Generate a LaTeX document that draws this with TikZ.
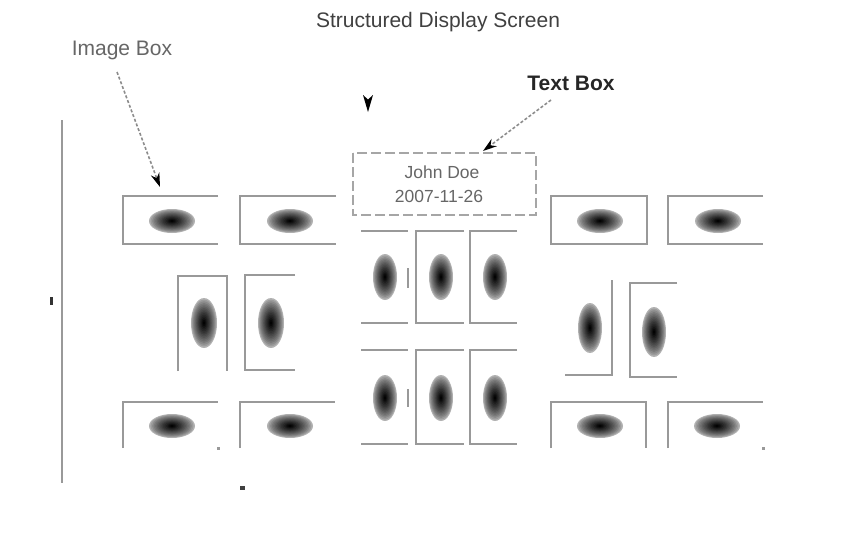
\documentclass[tikz,border=0pt]{standalone}
\usepackage{fontspec}
\setmainfont{Liberation Sans}
\usetikzlibrary{arrows.meta}
\definecolor{edgegray}{gray}{0.6}
\newcommand\myblob[4]{%
  \foreach \k in {0,...,14}{%
    \pgfmathsetmacro\rxx{#3*(1-\k/15)}%
    \pgfmathsetmacro\ryy{#4*(1-\k/15)}%
    \pgfmathtruncatemacro\cc{30+70*(\k/14)^0.75}%
    \fill[black!\cc] (#1,#2) ellipse [x radius=\rxx pt, y radius=\ryy pt];
  }}
\begin{document}
\begin{tikzpicture}[x=1pt,y=-1pt,
  edge/.style={draw=edgegray,line width=2.5pt},
  lbl/.style={inner sep=0pt,anchor=base},
  pointer/.style={draw=black!45,line width=1.6pt,dash pattern=on 3pt off 2pt,
    -{Stealth[black,length=14pt,width=9pt]}},
  textframe/.style={draw=black!35,line width=1.6pt,dash pattern=on 10pt off 4pt}]
\useasboundingbox (0,0) rectangle (845,539);

% title and labels
\node[lbl,font=\fontsize{21}{25}\selectfont,text=black!75] (title) at (438,27) {Structured Display Screen};
\node[lbl,font=\fontsize{21}{25}\selectfont,text=black!60] (imglbl) at (122,55) {Image Box};
\node[lbl,font=\bfseries\fontsize{21}{25}\selectfont,text=black!85] (txtlbl) at (571,90) {Text Box};

% text box
\draw[textframe] (353,153) rectangle (536,215);
\node[lbl,font=\fontsize{17.5}{21}\selectfont,text=black!60] (name) at (442,178) {John Doe};
\node[lbl,font=\fontsize{17.5}{21}\selectfont,text=black!60] (date) at (439,202) {2007-11-26};

% pointers
\coordinate (imgfrom) at (117,72);
\coordinate (imgtip) at (160,187);
\coordinate (txtfrom) at (551,100);
\coordinate (txttip) at (483,151);
\draw[pointer] (imgfrom) -- (imgtip);
\draw[pointer] (txtfrom) -- (txttip);

% lone marks
\fill[black] (363,95) -- (368,99.5) -- (373,95) -- (368,112) -- cycle;
\fill[black!80] (50,297) rectangle (53,305);
\fill[black!75] (240,486) rectangle (245,490);

% left rule
\draw[edge] (62,120) -- (62,483);

% row 1 left
\draw[edge] (218,196) -- (123,196) -- (123,244) -- (218,244);
\myblob{172}{221}{23}{12}
\draw[edge] (336,196) -- (240,196) -- (240,244) -- (336,244);
\myblob{290}{221}{23}{12}

% row 2 left
\draw[edge] (178,371) -- (178,276) -- (227,276) -- (227,371);
\myblob{204}{323}{13}{25}
\draw[edge] (295,275) -- (245,275) -- (245,370) -- (295,370);
\myblob{271}{323}{13}{25}

% middle top row
\draw[edge] (361,231) -- (408,231);
\draw[edge] (361,323) -- (408,323);
\draw[edge] (408,268) -- (408,288);
\myblob{385}{277}{12}{23}
\draw[edge] (464,231) -- (416,231) -- (416,323) -- (464,323);
\myblob{441}{277}{12}{23}
\draw[edge] (517,231) -- (470,231) -- (470,323) -- (517,323);
\myblob{495}{277}{12}{23}

% middle bottom row
\draw[edge] (361,350) -- (408,350);
\draw[edge] (361,444) -- (408,444);
\draw[edge] (408,389) -- (408,407);
\myblob{385}{398}{12}{23}
\draw[edge] (464,350) -- (416,350) -- (416,444) -- (464,444);
\myblob{441}{398}{12}{23}
\draw[edge] (517,350) -- (470,350) -- (470,444) -- (517,444);
\myblob{495}{398}{12}{23}

% row 1 right
\draw[edge] (551,196) rectangle (647,244);
\myblob{600}{221}{23}{12}
\draw[edge] (763,196) -- (668,196) -- (668,244) -- (763,244);
\myblob{718}{221}{23}{12}

% row 2 right
\draw[edge] (612,280) -- (612,375) -- (565,375);
\myblob{590}{328}{12}{25}
\draw[edge] (677,283) -- (630,283) -- (630,377) -- (677,377);
\myblob{654}{332}{12}{25}

% bottom row
\draw[edge] (123,448) -- (123,402) -- (218,402);
\fill[edgegray] (216.5,446.5) rectangle (219.5,449.5);
\myblob{172}{426}{23}{12}
\draw[edge] (240,448) -- (240,402) -- (335,402);
\myblob{290}{426}{23}{12}
\draw[edge] (551,448) -- (551,402) -- (646,402) -- (646,448);
\myblob{600}{426}{23}{12}
\draw[edge] (668,448) -- (668,402) -- (763,402);
\fill[edgegray] (761.5,446.5) rectangle (764.5,449.5);
\myblob{717}{426}{23}{12}
\end{tikzpicture}
\end{document}
